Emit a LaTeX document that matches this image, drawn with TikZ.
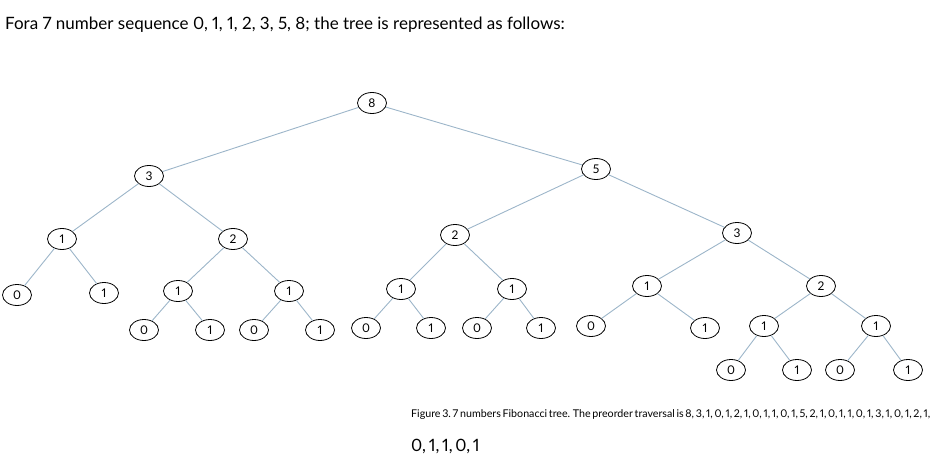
\documentclass[tikz,border=0pt]{standalone}
\usepackage{fontspec}
\setmainfont[Numbers=Proportional]{Lato}
\usetikzlibrary{shapes.geometric}
\tikzset{
  fib/.style={draw, ellipse, thick, fill=white, inner sep=0pt, minimum width=29pt, minimum height=21pt, font=\fontsize{12}{13}\selectfont},
  branch/.style={draw=blue!45!cyan!30!gray!60, line width=0.9pt},
  txt/.style={anchor=west, inner sep=0pt, font=\fontsize{17}{22}\selectfont}
}
\begin{document}
\begin{tikzpicture}[x=1pt, y=-1pt]
	\useasboundingbox (0,0) rectangle (952,466);
	\node[txt] (title) at (5,25) {Fora 7 number sequence 0, 1, 1, 2, 3, 5, 8; the tree is represented as follows:};
	\node[txt] (capa) at (411,415) {\resizebox{519pt}{!}{\spaceskip=0.16em Figure 3.\ 7 numbers Fibonacci tree. The preorder traversal is 8, 3, 1, 0, 1, 2, 1, 0, 1, 1, 0, 1, 5, 2, 1, 0, 1, 1, 0, 1, 3, 1, 0, 1, 2, 1,}};
	\node[txt] (capb) at (411,446) {\spaceskip=0.16em 0, 1, 1, 0, 1};

	% root and first levels
	\node[fib] (r) at (372,103) {8};
	\node[fib] (a) at (149,176) {3};
	\node[fib] (b) at (596,169) {5};
	\node[fib] (aa) at (62,239) {1};
	\node[fib] (ab) at (233,239) {2};
	\node[fib] (ba) at (455,235) {2};
	\node[fib] (bb) at (737,233) {3};
	% third level
	\node[fib] (aaa) at (17,295) {0};
	\node[fib] (aab) at (104,293) {1};
	\node[fib] (aba) at (178,291) {1};
	\node[fib] (abb) at (289,291) {1};
	\node[fib] (baa) at (401,289) {1};
	\node[fib] (bab) at (512,289) {1};
	\node[fib] (bba) at (647,286) {1};
	\node[fib] (bbb) at (821,286) {2};
	% fourth level
	\node[fib] (abaa) at (144,330) {0};
	\node[fib] (abab) at (210,330) {1};
	\node[fib] (abba) at (254,330) {0};
	\node[fib] (abbb) at (320,330) {1};
	\node[fib] (baaa) at (366,328) {0};
	\node[fib] (baab) at (431,328) {1};
	\node[fib] (baba) at (477,328) {0};
	\node[fib] (babb) at (541,328) {1};
	\node[fib] (bbaa) at (591,326) {0};
	\node[fib] (bbab) at (705,328) {1};
	\node[fib] (bbba) at (764,326) {1};
	\node[fib] (bbbb) at (876,326) {1};
	% fifth level
	\node[fib] (bbbaa) at (731,370) {0};
	\node[fib] (bbbab) at (797,370) {1};
	\node[fib] (bbbba) at (840,370) {0};
	\node[fib] (bbbbb) at (908,370) {1};

	\begin{scope}[on background layer/.try]
	\foreach \p/\c in {r/a, r/b, a/aa, a/ab, b/ba, b/bb, aa/aaa, aa/aab, ab/aba, ab/abb,
	  ba/baa, ba/bab, bb/bba, bb/bbb, aba/abaa, aba/abab, abb/abba, abb/abbb,
	  baa/baaa, baa/baab, bab/baba, bab/babb, bba/bbaa, bba/bbab, bbb/bbba, bbb/bbbb,
	  bbba/bbbaa, bbba/bbbab, bbbb/bbbba, bbbb/bbbbb}
		\draw[branch] (\p) -- (\c);
	\end{scope}
\end{tikzpicture}
\end{document}
